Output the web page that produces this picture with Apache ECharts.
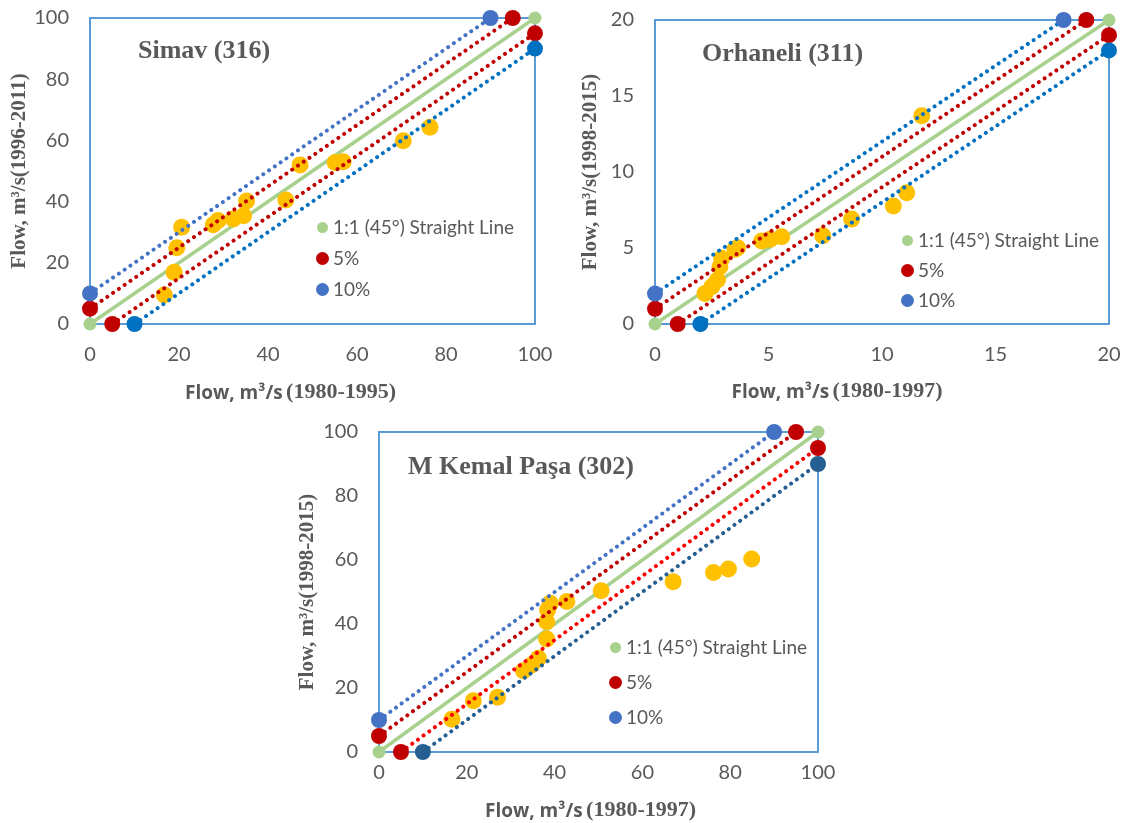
<!DOCTYPE html>
<html>
<head>
<meta charset="utf-8">
<script src="https://cdn.jsdelivr.net/npm/echarts@6/dist/echarts.min.js"></script>
<style>
html,body{margin:0;padding:0;background:#fff;}
#main{width:1126px;height:823px;}
</style>
</head>
<body>
<div id="main"></div>
<script>
// ---------- DATA ----------
const chartTitles = ['Simav (316)', 'Orhaneli (311)', 'M Kemal Paşa (302)'];
const xNames = ['(1980-1995)', '(1980-1997)', '(1980-1997)'];
const yNames = ['Flow, m³/s(1996-2011)', 'Flow, m³/s(1998-2015)', 'Flow, m³/s(1998-2015)'];
const legendNames = ['1:1 (45°) Straight Line', '5%', '10%'];
const axisMax = [100, 20, 100];
const axisInterval = [20, 5, 20];

// Simav observed points
const simavX = [76.4, 70.4, 47.2, 55.1, 56.9, 35.2, 44.0, 32.2, 34.5, 27.7, 28.8, 20.6, 19.5, 18.9, 16.7];
const simavY = [64.3, 59.9, 52.0, 52.8, 53.0, 40.2, 40.5, 34.3, 35.4, 32.4, 33.8, 31.6, 24.9, 16.9, 9.5];
// Orhaneli observed points
const orhX = [11.75, 11.09, 10.5, 8.66, 7.39, 5.58, 5.07, 4.7, 3.64, 3.52, 2.94, 2.86, 2.75, 2.5, 2.2];
const orhY = [13.7, 8.64, 7.76, 6.9, 5.8, 5.74, 5.57, 5.46, 5.02, 4.91, 4.32, 3.77, 2.9, 2.45, 2.0];
// M Kemal Paşa observed points
const mkpX = [84.9, 79.6, 76.2, 67.0, 50.6, 42.8, 39.0, 38.4, 38.2, 38.2, 36.3, 34.8, 32.9, 27.0, 21.5, 16.6];
const mkpY = [60.3, 57.2, 56.1, 53.2, 50.4, 47.0, 46.5, 44.4, 40.7, 35.3, 29.3, 27.2, 25.4, 17.1, 16.0, 10.2];

// Reference lines (endpoints) for 0-100 charts
const line100OneToOne = [[0, 0], [100, 100]];
const line100Plus5 = [[0, 5], [95, 100]];
const line100Minus5 = [[5, 0], [100, 95]];
const line100Plus10 = [[0, 10], [90, 100]];
const line100Minus10 = [[10, 0], [100, 90]];
// Reference lines for 0-20 chart
const line20OneToOne = [[0, 0], [20, 20]];
const line20Plus5 = [[0, 1], [19, 20]];
const line20Minus5 = [[1, 0], [20, 19]];
const line20Plus10 = [[0, 2], [18, 20]];
const line20Minus10 = [[2, 0], [20, 18]];

// ---------- LAYOUT / STYLE ----------
const grids = [
  {left: 90, top: 18, width: 445, height: 306},
  {left: 655, top: 20, width: 454, height: 304},
  {left: 379, top: 432, width: 439, height: 320}
];
const xNameGap = [57, 56, 47];
const xLabelMargin = [21, 21, 11];
const xNameShift = [44, 90, 16];
const yNameGap = [59, 54, 61];
const titlePos = [{left: 138, top: 38}, {left: 702, top: 41}, {left: 408, top: 454}];
const legendPos = [{left: 315, top: 218, gap: 12}, {left: 900, top: 231, gap: 11}, {left: 608, top: 638, gap: 16}];

const GREEN = '#A9D18E', DRED = '#C00000', BRED = '#FF0000', BLUE1 = '#4472C4', BLUE2 = '#0070C0', BLUE3 = '#255E91', YEL = '#FFC000';
const GREY = '#595959';

const pointsX = [simavX, orhX, mkpX];
const pointsY = [simavY, orhY, mkpY];
const refLines = [
  [line100OneToOne, line100Plus5, line100Minus5, line100Plus10, line100Minus10],
  [line20OneToOne, line20Plus5, line20Minus5, line20Plus10, line20Minus10],
  [line100OneToOne, line100Plus5, line100Minus5, line100Plus10, line100Minus10]
];
const lineColors = [
  // [green, plus5 line, plus5 marker, minus5 line, minus5 marker, plus10 line, plus10 marker, minus10 line, minus10 marker]
  [GREEN, DRED, DRED, DRED, DRED, BLUE1, BLUE1, BLUE2, BLUE2],
  [GREEN, DRED, DRED, DRED, DRED, BLUE2, BLUE1, BLUE2, BLUE2],
  [GREEN, DRED, DRED, BRED, DRED, BLUE1, BLUE1, BLUE3, BLUE3]
];

const dotted = (c) => ({color: c, width: 4, type: [0.01, 7], cap: 'round'});

const series = [];
const xAxes = [], yAxes = [], titles = [], legends = [];
for (let i = 0; i < 3; i++) {
  const L = refLines[i], C = lineColors[i];
  series.push({
    type: 'line', name: legendNames[0], xAxisIndex: i, yAxisIndex: i, data: L[0],
    lineStyle: {color: C[0], width: 3.5}, itemStyle: {color: C[0]},
    symbol: 'circle', symbolSize: 13, z: 2, silent: true
  });
  series.push({
    type: 'scatter', name: 'obs' + i, xAxisIndex: i, yAxisIndex: i,
    data: pointsX[i].map((x, k) => [x, pointsY[i][k]]),
    symbolSize: 17, itemStyle: {color: YEL, opacity: 1}, z: 3, silent: true
  });
  const specs = [
    [legendNames[1], L[1], C[1], C[2]],
    ['5%b' + i, L[2], C[3], C[4]],
    [legendNames[2], L[3], C[5], C[6]],
    ['10%b' + i, L[4], C[7], C[8]]
  ];
  specs.forEach(s => series.push({
    type: 'line', name: s[0], xAxisIndex: i, yAxisIndex: i, data: s[1],
    lineStyle: dotted(s[2]), itemStyle: {color: s[3]},
    symbol: 'circle', symbolSize: 16, z: 4, silent: true
  }));

  xAxes.push({
    gridIndex: i, type: 'value', min: 0, max: axisMax[i], interval: axisInterval[i],
    axisLine: {show: false}, axisTick: {show: false}, splitLine: {show: false},
    axisLabel: {color: GREY, fontSize: 20, fontFamily: 'Lato', margin: xLabelMargin[i]},
    name: '{a|Flow, m³/s} {b|' + xNames[i] + '}',
    nameLocation: 'middle', nameGap: xNameGap[i],
    nameTextStyle: {
      padding: [0, xNameShift[i], 0, 0],
      rich: {
        a: {fontFamily: 'Open Sans', fontWeight: 'bold', fontSize: 19, color: GREY},
        b: {fontFamily: 'Liberation Serif', fontWeight: 'bold', fontSize: 22, color: GREY, padding: [0, 0, 4, 0]}
      }
    }
  });
  yAxes.push({
    gridIndex: i, type: 'value', min: 0, max: axisMax[i], interval: axisInterval[i],
    axisLine: {show: false}, axisTick: {show: false}, splitLine: {show: false},
    axisLabel: {color: GREY, fontSize: 20, fontFamily: 'Lato', margin: 21},
    name: yNames[i], nameLocation: 'middle', nameGap: yNameGap[i], nameRotate: 90,
    nameTextStyle: {fontFamily: 'Liberation Serif', fontWeight: 'bold', fontSize: 21, color: GREY}
  });
  titles.push({
    text: chartTitles[i], left: titlePos[i].left, top: titlePos[i].top, padding: 0,
    textStyle: {fontFamily: 'Liberation Serif', fontWeight: 'bold', fontSize: 26, color: GREY}
  });
  legends.push({
    orient: 'vertical', left: legendPos[i].left, top: legendPos[i].top, padding: 0,
    itemGap: legendPos[i].gap, itemWidth: 13, itemHeight: 13, icon: 'circle',
    selectedMode: false,
    textStyle: {fontFamily: 'Lato', fontSize: 19, color: GREY, padding: [0, 0, 0, -1]},
    data: [
      {name: legendNames[0], itemStyle: {color: GREEN, borderColor: '#fff', borderWidth: 2}},
      {name: legendNames[1], itemStyle: {color: DRED}},
      {name: legendNames[2], itemStyle: {color: BLUE1}}
    ]
  });
}

const chart = echarts.init(document.getElementById('main'), null, {renderer: 'canvas'});
chart.setOption({
  animation: false,
  backgroundColor: '#fff',
  title: titles,
  legend: legends,
  grid: grids.map(g => Object.assign({show: true, borderColor: '#5B9BD5', borderWidth: 2, backgroundColor: 'transparent', containLabel: false}, g)),
  xAxis: xAxes,
  yAxis: yAxes,
  series: series
});
</script>
</body>
</html>
